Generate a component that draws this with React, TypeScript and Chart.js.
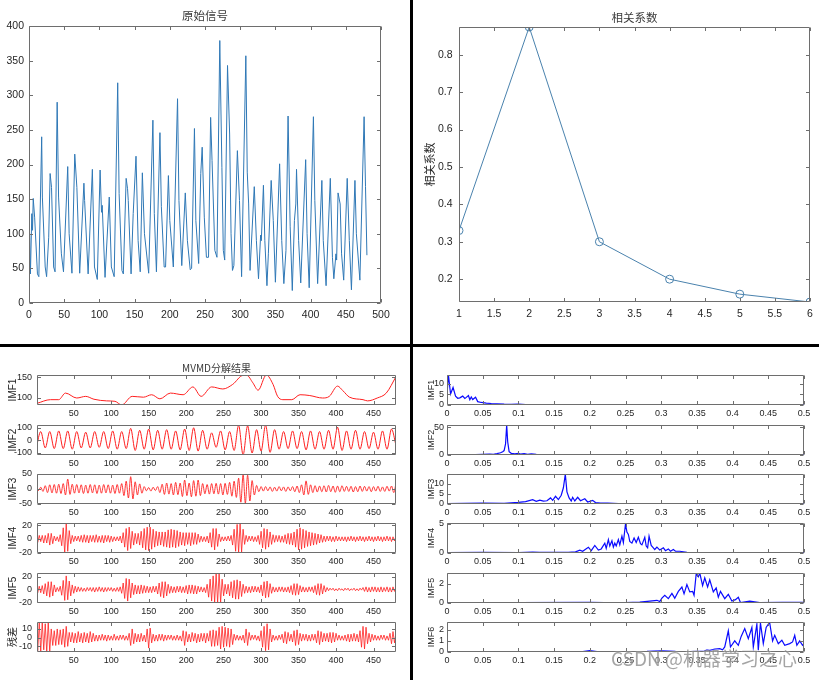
import React, { useEffect, useRef } from "react";
import { Chart, registerables } from "chart.js";

Chart.register(...registerables);

// ================= DATA =================
const signalXTicks = [0, 50, 100, 150, 200, 250, 300, 350, 400, 450, 500];
const signalYTicks = [0, 50, 100, 150, 200, 250, 300, 350, 400];
// original signal: [sample, value]
const originalSignal = [
  [1,100],[2,42],[4,129],[5,105],[6,151],[8,124],[12,42],[14,38],[18,240],[19,153],[23,52],[25,38],[28,95],[30,187],[32,167],[35,52],[37,45],[40,290],[42,153],[46,71],[49,45],[55,197],[57,100],[61,43],[65,215],[68,167],[72,43],[78,173],[79,148],[84,42],[90,193],[93,52],[97,34],[101,192],[103,131],[104,141],[108,37],[114,153],[117,52],[121,38],[126,318],[128,158],[132,47],[134,42],[138,180],[140,165],[141,148],[145,42],[148,129],[152,212],[155,90],[158,45],[161,188],[164,100],[170,43],[176,264],[178,129],[181,45],[186,246],[188,139],[192,52],[194,52],[198,184],[200,119],[205,52],[211,295],[213,148],[217,54],[222,159],[225,90],[229,48],[231,50],[235,252],[237,119],[241,57],[244,187],[246,225],[249,124],[252,66],[255,66],[258,268],[260,206],[264,76],[267,66],[271,379],[274,196],[276,76],[278,62],[282,343],[285,244],[287,100],[289,47],[291,54],[296,220],[299,148],[302,38],[308,357],[310,189],[312,143],[314,47],[320,168],[323,90],[326,35],[329,98],[330,90],[333,170],[335,90],[338,25],[340,71],[344,177],[347,119],[350,30],[356,201],[359,90],[362,28],[365,76],[368,270],[371,110],[374,18],[377,119],[379,143],[380,193],[383,90],[386,29],[393,207],[395,100],[398,22],[404,269],[406,148],[410,28],[416,177],[418,90],[422,25],[428,180],[431,66],[433,35],[436,71],[437,62],[439,159],[442,143],[444,71],[447,33],[452,180],[455,90],[458,19],[463,177],[465,100],[470,33],[476,269],[478,168],[480,69]
];

const corrModes = [1, 2, 3, 4, 5, 6];
const corrValues = [0.33, 0.874, 0.3, 0.2, 0.16, 0.139];
const corrXTicks = [1, 1.5, 2, 2.5, 3, 3.5, 4, 4.5, 5, 5.5, 6];
const corrYTicks = [0.2, 0.3, 0.4, 0.5, 0.6, 0.7, 0.8];

const timeTicks = [50, 100, 150, 200, 250, 300, 350, 400, 450];
const freqTicks = [0, 0.05, 0.1, 0.15, 0.2, 0.25, 0.3, 0.35, 0.4, 0.45, 0.5];

const modeLabels = ["IMF1", "IMF2", "IMF3", "IMF4", "IMF5", "残差"];
const spectrumLabels = ["IMF1", "IMF2", "IMF3", "IMF4", "IMF5", "IMF6"];

// IMF1: [sample, value]
const imf1 = [
  [1,87],[19,96],[30,96],[39,112],[54,100],[66,104],[77,97],[94,93],[105,92],[114,83],[128,104],[143,102],[154,108],[165,98],[179,112],[196,108],[209,127],[220,104],[234,127],[249,122],[262,133],[276,155],[281,155],[289,137],[296,119],[307,156],[316,133],[322,104],[329,96],[341,96],[352,108],[365,106],[382,100],[391,104],[402,129],[409,118],[418,102],[436,96],[442,93],[455,100],[467,112],[480,152]
];
// IMF2 extrema, one value every 6 samples starting at sample 0
const imf2Step = 6;
const imf2 = [
  -60,70,-60,70,-65,75,-65,75,-70,70,
  -60,65,-60,70,-55,70,-65,75,-70,70,
  -65,95,-80,80,-70,90,-75,80,-70,85,
  -70,75,-75,90,-80,100,-85,80,-70,60,
  -55,75,-75,70,-80,120,-115,115,-100,85,
  -85,120,-95,85,-70,70,-65,75,-65,70,
  -75,75,-70,70,-70,80,-70,105,-80,75,
  -70,80,-70,70,-65,65,-70,75,-70,90,
  -40
];
// IMF3 extrema, every 3 samples
const imf3Step = 3;
const imf3 = [
  4,-5,6,-8,11,-12,14,-13,15,-14,
  16,-15,18,-20,33,-18,16,-14,15,-13,
  14,-15,13,-14,15,-13,14,-15,13,-14,
  15,-13,14,-14,13,-15,15,-14,18,-22,
  26,-30,41,-33,24,-20,17,-14,8,-6,
  5,-7,6,-5,8,-12,16,-18,20,-17,
  18,-20,22,-19,20,-25,30,-22,20,-26,
  28,-24,30,-22,18,-16,15,-17,18,-16,
  19,-17,18,-20,19,-18,22,-24,26,-28,
  36,-44,48,-47,46,-40,28,-20,12,-9,
  8,-7,8,-6,7,-8,6,-7,8,-6,
  7,-8,7,-6,8,-9,10,-12,14,-20,
  27,-18,14,-12,11,-10,10,-9,11,-10,
  12,-9,10,-11,10,-9,11,-8,9,-8,
  9,-10,8,-9,10,-8,9,-7,8,-9,
  8,-7,9,-8,7,-8,9,-7,10,-12,
  19
];
// IMF4, every 2 samples
const imf4Step = 2;
const imf4 = [
  4,-5,5,-4,5,-6,5,-6,8,-9,
  8,-7,4,-3,3,-4,6,-10,16,-21,
  23,-18,12,-7,5,-4,4,-3,4,-4,
  5,-5,6,-5,5,-6,5,-4,5,-5,
  6,-5,4,-5,5,-6,5,-4,5,-5,
  4,-4,3,-3,3,-3,4,-6,9,-12,
  15,-17,17,-14,11,-9,8,-7,8,-9,
  11,-13,15,-16,17,-17,17,-15,14,-12,
  11,-10,10,-9,10,-11,10,-12,13,-13,
  14,-12,13,-13,12,-11,10,-9,9,-10,
  9,-8,9,-10,9,-8,9,-8,7,-5,
  4,-4,3,-4,4,-6,9,-12,15,-16,
  15,-11,7,-4,3,-3,3,-3,4,-3,
  5,-9,14,-18,21,-20,22,-19,14,-8,
  5,-4,4,-3,4,-4,3,-4,5,-8,
  11,-13,15,-15,14,-12,10,-8,6,-5,
  5,-4,5,-5,4,-5,6,-7,8,-8,
  8,-9,10,-12,14,-16,16,-15,14,-13,
  12,-11,10,-10,9,-9,8,-8,7,-6,
  6,-5,4,-4,4,-3,4,-4,3,-4,
  4,-3,3,-3,3,-3,3,-4,3,-3,
  4,-3,3,-4,3,-3,4,-3,3,-4,
  3,-3,4,-3,3,-4,3,-3,4,-3,
  3,-4,3,-3,4,-3,3,-4,3,-3,
  4
];
// IMF5, every 2 samples
const imf5Step = 2;
const imf5 = [
  4,-5,5,-5,6,-7,9,-10,12,-12,
  12,-10,7,-4,3,-3,5,-9,14,-17,
  21,-16,13,-10,7,-6,5,-4,4,-3,
  3,-3,2,-3,3,-2,3,-3,3,-4,
  3,-3,4,-3,3,-4,3,-3,3,-2,
  3,-3,2,-3,3,-3,4,-6,10,-14,
  17,-18,16,-13,10,-8,7,-7,6,-7,
  7,-6,6,-5,5,-5,4,-5,5,-4,
  5,-7,10,-11,12,-13,12,-10,8,-6,
  5,-5,4,-5,5,-4,5,-5,4,-5,
  6,-7,7,-6,7,-7,6,-7,5,-4,
  4,-4,3,-5,8,-12,16,-18,21,-20,
  24,-21,26,-20,16,-10,8,-7,8,-10,
  12,-13,14,-15,15,-15,13,-11,8,-6,
  5,-5,4,-5,5,-4,5,-4,4,-5,
  7,-10,12,-13,13,-12,9,-6,4,-4,
  3,-4,4,-3,4,-4,3,-4,4,-5,
  6,-8,9,-9,9,-8,6,-4,4,-4,
  3,-4,4,-3,4,-5,6,-8,9,-9,
  9,-7,6,-4,3,-2,2,-1,2,-2,
  1,-2,2,-1,1,-2,2,-1,2,-2,
  1,-1,2,-2,1,-2,2,-1,3,-3,
  4,-4,3,-4,4,-3,4,-4,3,-4,
  4,-4,3,-3,4,-4,3,-4,4,-3,
  4
];
// residual, every 2 samples
const residualStep = 2;
const residual = [
  12,-15,17,-16,18,-14,16,-17,18,-16,
  10,-9,8,-9,10,-8,9,-8,10,-11,
  13,-10,6,-5,6,-6,5,-6,7,-5,
  5,-6,6,-5,5,-6,7,-5,5,-4,
  3,-4,3,-3,4,-3,3,-4,3,-3,
  2,-3,4,-3,2,-3,3,-2,3,-3,
  2,-3,5,-9,10,-7,5,-5,4,-5,
  5,-4,3,-5,10,-12,11,-6,4,-4,
  3,-4,4,-3,4,-4,3,-3,3,-2,
  3,-3,2,-3,3,-3,2,-4,8,-9,
  7,-5,4,-5,6,-4,5,-6,4,-5,
  5,-4,5,-6,5,-4,8,-10,9,-10,
  8,-9,12,-13,13,-11,12,-10,11,-11,
  10,-8,4,-3,3,-3,2,-3,3,-6,
  10,-9,6,-3,3,-2,3,-3,2,-4,
  8,-11,13,-15,16,-14,10,-5,3,-3,
  2,-3,3,-2,4,-6,7,-7,6,-4,
  4,-5,8,-9,9,-8,5,-4,4,-3,
  4,-4,3,-4,4,-3,4,-6,8,-8,
  7,-5,5,-4,5,-5,6,-6,6,-5,
  5,-3,3,-3,2,-3,3,-4,4,-5,
  4,-4,5,-4,4,-5,8,-11,13,-13,
  12,-7,5,-5,4,-3,3,-3,2,-3,
  3,-2,3,-3,2,-3,5,-7,7,-6,
  6
];

const modeYRanges = [[83, 156], [-116, 122], [-50, 50], [-20.5, 23], [-21, 25.5], [-16.5, 18]];
const modeYTicks = [[100, 150], [-100, 0, 100], [-50, 0, 50], [-20, 0, 20], [-20, 0, 20], [-10, 0, 10]];

// spectra: [frequency, amplitude]
const spec1 = [[0,5],[0.002,14.2],[0.005,5.2],[0.0085,8.3],[0.012,4.2],[0.015,3.2],[0.018,3.4],[0.022,4.2],[0.025,3.1],[0.027,3.6],[0.03,4.5],[0.032,2.5],[0.034,3.8],[0.036,2.6],[0.04,3.7],[0.043,1.6],[0.048,1.2],[0.055,0.9],[0.062,0.7],[0.07,0.6],[0.08,0.4],[0.09,0.3],[0.1,0.45],[0.11,0.2],[0.125,0.15],[0.15,0.1],[0.2,0.1],[0.3,0.08],[0.4,0.06],[0.5,0.05]];
const spec2 = [[0,0.2],[0.02,0.4],[0.03,0.6],[0.04,0.8],[0.05,1.2],[0.06,1.6],[0.065,1.3],[0.07,2.5],[0.075,4],[0.078,6],[0.08,8],[0.082,20],[0.0836,54],[0.085,24],[0.087,6],[0.09,3],[0.095,2.2],[0.1,2.8],[0.103,1.5],[0.108,2.6],[0.113,1.4],[0.118,2],[0.125,1],[0.135,0.6],[0.15,0.3],[0.2,0.15],[0.3,0.1],[0.5,0.05]];
const spec3 = [[0,0.2],[0.05,0.4],[0.08,0.3],[0.1,0.8],[0.11,1.2],[0.12,2.1],[0.125,1.3],[0.13,1.9],[0.135,1.4],[0.14,1.6],[0.145,3],[0.148,1.8],[0.152,3.8],[0.156,2.2],[0.16,4.3],[0.163,8],[0.1657,14.7],[0.168,6],[0.171,3],[0.174,1.5],[0.176,3.3],[0.179,1.5],[0.183,3.3],[0.187,1.6],[0.193,2.6],[0.197,1],[0.204,1.8],[0.208,0.7],[0.215,0.5],[0.225,0.4],[0.24,0.2],[0.3,0.1],[0.5,0.05]];
const spec4 = [[0,0.05],[0.05,0.1],[0.1,0.08],[0.12,0.15],[0.13,0.1],[0.17,0.1],[0.18,0.2],[0.186,0.5],[0.19,0.3],[0.198,1.0],[0.202,0.4],[0.207,1.3],[0.212,0.5],[0.216,0.7],[0.221,1.7],[0.223,0.8],[0.226,2.3],[0.228,1.2],[0.231,2.1],[0.233,1.0],[0.235,1.7],[0.237,1.2],[0.24,2.3],[0.242,1.4],[0.245,2.9],[0.247,1.8],[0.25,5.0],[0.252,3.6],[0.254,3.2],[0.256,2.0],[0.259,1.7],[0.262,2.6],[0.265,1.8],[0.268,2.7],[0.271,1.6],[0.273,1.4],[0.277,2.7],[0.279,1.2],[0.281,0.9],[0.283,2.9],[0.286,1.3],[0.289,0.9],[0.291,0.6],[0.294,1.0],[0.298,0.5],[0.303,0.9],[0.306,0.4],[0.31,0.7],[0.313,0.3],[0.317,0.6],[0.32,0.3],[0.326,0.3],[0.336,0.1],[0.36,0.05],[0.4,0.04],[0.45,0.05],[0.5,0.05]];
const spec5 = [[0,0.03],[0.1,0.03],[0.2,0.08],[0.22,0.05],[0.25,0.05],[0.27,0.1],[0.284,0.2],[0.294,0.28],[0.298,0.15],[0.301,0.5],[0.305,0.8],[0.31,0.45],[0.315,1.0],[0.319,0.5],[0.324,1.2],[0.329,1.65],[0.332,0.95],[0.336,1.9],[0.34,1.15],[0.344,1.2],[0.346,0.8],[0.349,3.0],[0.352,2.7],[0.354,3.1],[0.358,1.8],[0.361,2.6],[0.365,1.65],[0.368,2.4],[0.373,1.15],[0.377,1.55],[0.38,0.6],[0.383,1.2],[0.389,0.45],[0.394,0.9],[0.399,0.2],[0.404,0.35],[0.408,0.6],[0.411,0.05],[0.424,0.2],[0.438,0.05],[0.47,0.08],[0.5,0.06]];
const spec6 = [[0,0.02],[0.1,0.02],[0.19,0.03],[0.2,0.12],[0.21,0.03],[0.28,0.05],[0.3,0.1],[0.32,0.05],[0.34,0.04],[0.35,0.06],[0.359,0.05],[0.364,0.2],[0.368,0.15],[0.375,0.25],[0.382,0.3],[0.386,0.2],[0.389,0.45],[0.394,1.9],[0.397,0.45],[0.403,1.0],[0.408,0.6],[0.412,1.4],[0.417,2.1],[0.422,1.2],[0.427,2.2],[0.429,0.45],[0.434,2.5],[0.436,0.15],[0.439,2.6],[0.443,0.75],[0.447,2.2],[0.45,2.5],[0.452,2.6],[0.456,1.0],[0.459,1.5],[0.464,0.75],[0.469,1.05],[0.473,0.6],[0.48,0.75],[0.484,0.9],[0.487,1.5],[0.49,0.6],[0.494,1.0],[0.498,0.6],[0.5,0.75]];

const specYRanges = [[0, 14.2], [0, 54.2], [0, 14.8], [0, 5.17], [0, 3.1], [0, 2.69]];
const specYTicks = [[0, 5, 10], [0, 50], [0, 5, 10], [0, 5], [0, 2], [0, 1, 2]];

// ================= STYLE / LAYOUT =================
const SANS = '"Liberation Sans", "Noto Sans CJK SC", Arial, sans-serif';
const CJK = '"Noto Sans CJK SC", "Liberation Sans", sans-serif';
const SIGNAL_BLUE = "#2f78b6";
const CORR_COLOR = "#4a82ad";
const IMF_RED = "#ff1f1f";
const SPEC_BLUE = "#0a0aff";
const BOX_COLOR = "#6e6e6e";
const TEXT_COLOR = "#262626";

const SUB_TOPS = [375, 425, 474, 523, 573, 622];
const SUB_H = 30;

const toPoints = (arr) => arr.map(([x, y]) => ({ x, y }));
const stepPoints = (vals, step) => vals.map((y, i) => ({ x: i * step, y }));

const modeSeries = [
  { pts: toPoints(imf1), smooth: true, width: 1 },
  { pts: stepPoints(imf2, imf2Step), smooth: true, width: 1 },
  { pts: stepPoints(imf3, imf3Step), smooth: true, width: 0.9 },
  { pts: stepPoints(imf4, imf4Step), smooth: false, width: 0.8 },
  { pts: stepPoints(imf5, imf5Step), smooth: false, width: 0.8 },
  { pts: stepPoints(residual, residualStep), smooth: false, width: 0.8 },
];
const spectra = [spec1, spec2, spec3, spec4, spec5, spec6];

function buildPanels() {
  const panels = [];
  panels.push({
    canvas: [0, 0, 410, 344], plot: [29, 26, 381, 303],
    datasets: [{ data: toPoints(originalSignal), borderColor: SIGNAL_BLUE, borderWidth: 1, pointRadius: 0 }],
    xRange: [0, 500], xTicks: signalXTicks, yRange: [0, 400], yTicks: signalYTicks,
    tickSize: 10.5, padX: 5.7, padY: 5, tickLen: 3.5,
    title: { text: "原始信号", y: 16, size: 11.5 },
  });
  panels.push({
    canvas: [410, 0, 409, 344], plot: [459, 27, 810, 302],
    datasets: [{
      data: corrModes.map((x, i) => ({ x, y: corrValues[i] })),
      borderColor: CORR_COLOR, borderWidth: 1, pointRadius: 4, pointBorderWidth: 1,
      pointBackgroundColor: "rgba(0,0,0,0)", pointBorderColor: CORR_COLOR,
    }],
    xRange: [1, 6], xTicks: corrXTicks, yRange: [0.139, 0.874], yTicks: corrYTicks,
    tickSize: 10.5, padX: 5.7, padY: 6.5, tickLen: 3.5,
    title: { text: "相关系数", y: 17.3, size: 11.5 },
    yTitle: { text: "相关系数", x: 430, size: 11, family: CJK },
  });
  SUB_TOPS.forEach((top, i) => {
    const s = modeSeries[i];
    const canvasTop = i === 0 ? 347 : top - 14;
    panels.push({
      canvas: [0, canvasTop, 410, top + SUB_H + 20 - canvasTop], plot: [37, top, 396, top + SUB_H],
      datasets: [{
        data: s.pts, borderColor: IMF_RED, borderWidth: s.width, pointRadius: 0,
        cubicInterpolationMode: s.smooth ? "monotone" : "default", tension: 0,
      }],
      xRange: [1, 480], xTicks: timeTicks, yRange: modeYRanges[i], yTicks: modeYTicks[i],
      tickSize: 9, padX: 3.6, padY: 5, tickLen: 3.5,
      title: i === 0 ? { text: "MVMD分解结果", y: 368, size: 10 } : null,
      yTitle: { text: modeLabels[i], x: 13.5, size: 10, family: SANS },
    });
  });
  SUB_TOPS.forEach((top, i) => {
    panels.push({
      canvas: [410, top - 14, 409, SUB_H + 34], plot: [447, top, 804, top + SUB_H],
      datasets: [{ data: toPoints(spectra[i]), borderColor: SPEC_BLUE, borderWidth: 1.2, pointRadius: 0 }],
      xRange: [0, 0.5], xTicks: freqTicks, yRange: specYRanges[i], yTicks: specYTicks[i],
      tickSize: 9, padX: 3.4, padY: 3, tickLen: 3.5,
      yTitle: { text: spectrumLabels[i], x: 431.5, size: 9, family: SANS },
    });
  });
  return panels;
}

function boxPlugin(len) {
  return {
    id: "matlabBox",
    afterDraw(chart) {
      const { ctx, chartArea: a } = chart;
      const xs = chart.scales.x;
      const ys = chart.scales.y;
      const L = Math.round(a.left) + 0.5;
      const R = Math.round(a.right) - 0.5;
      const T = Math.round(a.top) + 0.5;
      const B = Math.round(a.bottom) - 0.5;
      ctx.save();
      ctx.strokeStyle = BOX_COLOR;
      ctx.lineWidth = 1;
      ctx.beginPath();
      ctx.rect(L, T, R - L, B - T);
      xs.ticks.forEach((t) => {
        const px = Math.round(xs.getPixelForValue(t.value)) + 0.5;
        if (px < L - 1 || px > R + 1) return;
        ctx.moveTo(px, B); ctx.lineTo(px, B - len);
        ctx.moveTo(px, T); ctx.lineTo(px, T + len);
      });
      ys.ticks.forEach((t) => {
        const py = Math.round(ys.getPixelForValue(t.value)) + 0.5;
        if (py < T - 1 || py > B + 1) return;
        ctx.moveTo(L, py); ctx.lineTo(L + len, py);
        ctx.moveTo(R, py); ctx.lineTo(R - len, py);
      });
      ctx.stroke();
      ctx.restore();
    },
  };
}

function buildConfig(p) {
  const [cx, cy, cw, ch] = p.canvas;
  const [pl, pt, pr, pb] = p.plot;
  const tickFont = { family: SANS, size: p.tickSize };
  const titleLH = p.title ? p.title.size * 1.2 : 0;
  return {
    type: "line",
    data: { datasets: p.datasets },
    options: {
      responsive: false,
      animation: false,
      events: [],
      layout: { padding: { left: 0, right: cx + cw - pr, top: p.title ? 0 : pt - cy, bottom: 0 } },
      plugins: {
        legend: { display: false },
        tooltip: { enabled: false },
        title: p.title
          ? {
              display: true, text: p.title.text, fullSize: false, color: "#3a3a3a",
              font: { family: CJK, size: p.title.size, weight: "normal" },
              padding: { top: p.title.y - cy - titleLH / 2, bottom: pt - p.title.y - titleLH / 2 },
            }
          : { display: false },
      },
      scales: {
        x: {
          type: "linear", min: p.xRange[0], max: p.xRange[1],
          afterBuildTicks: (ax) => { ax.ticks = p.xTicks.map((v) => ({ value: v })); },
          afterFit: (ax) => { ax.height = cy + ch - pb; },
          grid: { display: false, drawTicks: false },
          border: { display: false },
          ticks: { autoSkip: false, maxRotation: 0, padding: p.padX, font: tickFont, color: TEXT_COLOR, callback: (v) => String(v) },
        },
        y: {
          type: "linear", min: p.yRange[0], max: p.yRange[1],
          afterBuildTicks: (ax) => { ax.ticks = p.yTicks.map((v) => ({ value: v })); },
          afterFit: (ax) => { ax.width = pl - cx; },
          grid: { display: false, drawTicks: false },
          border: { display: false },
          ticks: { autoSkip: false, padding: p.padY, font: tickFont, color: TEXT_COLOR, callback: (v) => String(v) },
          title: p.yTitle
            ? {
                display: true, text: p.yTitle.text, color: TEXT_COLOR,
                font: { family: p.yTitle.family, size: p.yTitle.size },
                padding: { top: p.yTitle.x - cx - p.yTitle.size * 0.6, bottom: 0 },
              }
            : { display: false },
        },
      },
    },
    plugins: [boxPlugin(p.tickLen)],
  };
}

const PANELS = buildPanels();

export default function App() {
  const refs = useRef([]);
  useEffect(() => {
    const charts = PANELS.map((p, i) => new Chart(refs.current[i], buildConfig(p)));
    return () => charts.forEach((c) => c.destroy());
  }, []);
  return (
    <div style={{ position: "absolute", left: 0, top: 0, width: 819, height: 680, background: "#fff", overflow: "hidden" }}>
      {PANELS.map((p, i) => (
        <canvas
          key={i}
          ref={(el) => { refs.current[i] = el; }}
          width={p.canvas[2]}
          height={p.canvas[3]}
          style={{ position: "absolute", left: p.canvas[0], top: p.canvas[1], width: p.canvas[2], height: p.canvas[3] }}
        />
      ))}
      <div style={{ position: "absolute", left: 410, top: 0, width: 3, height: 680, background: "#000" }} />
      <div style={{ position: "absolute", left: 0, top: 344, width: 819, height: 3, background: "#000" }} />
      <div
        style={{
          position: "absolute", left: 611, top: 646, fontSize: 19, lineHeight: "24px",
          fontFamily: CJK, color: "rgba(90,90,90,0.55)", whiteSpace: "nowrap",
          textShadow: "0 0 2px rgba(255,255,255,0.9)",
        }}
      >
        CSDN @机器学习之心
      </div>
    </div>
  );
}
